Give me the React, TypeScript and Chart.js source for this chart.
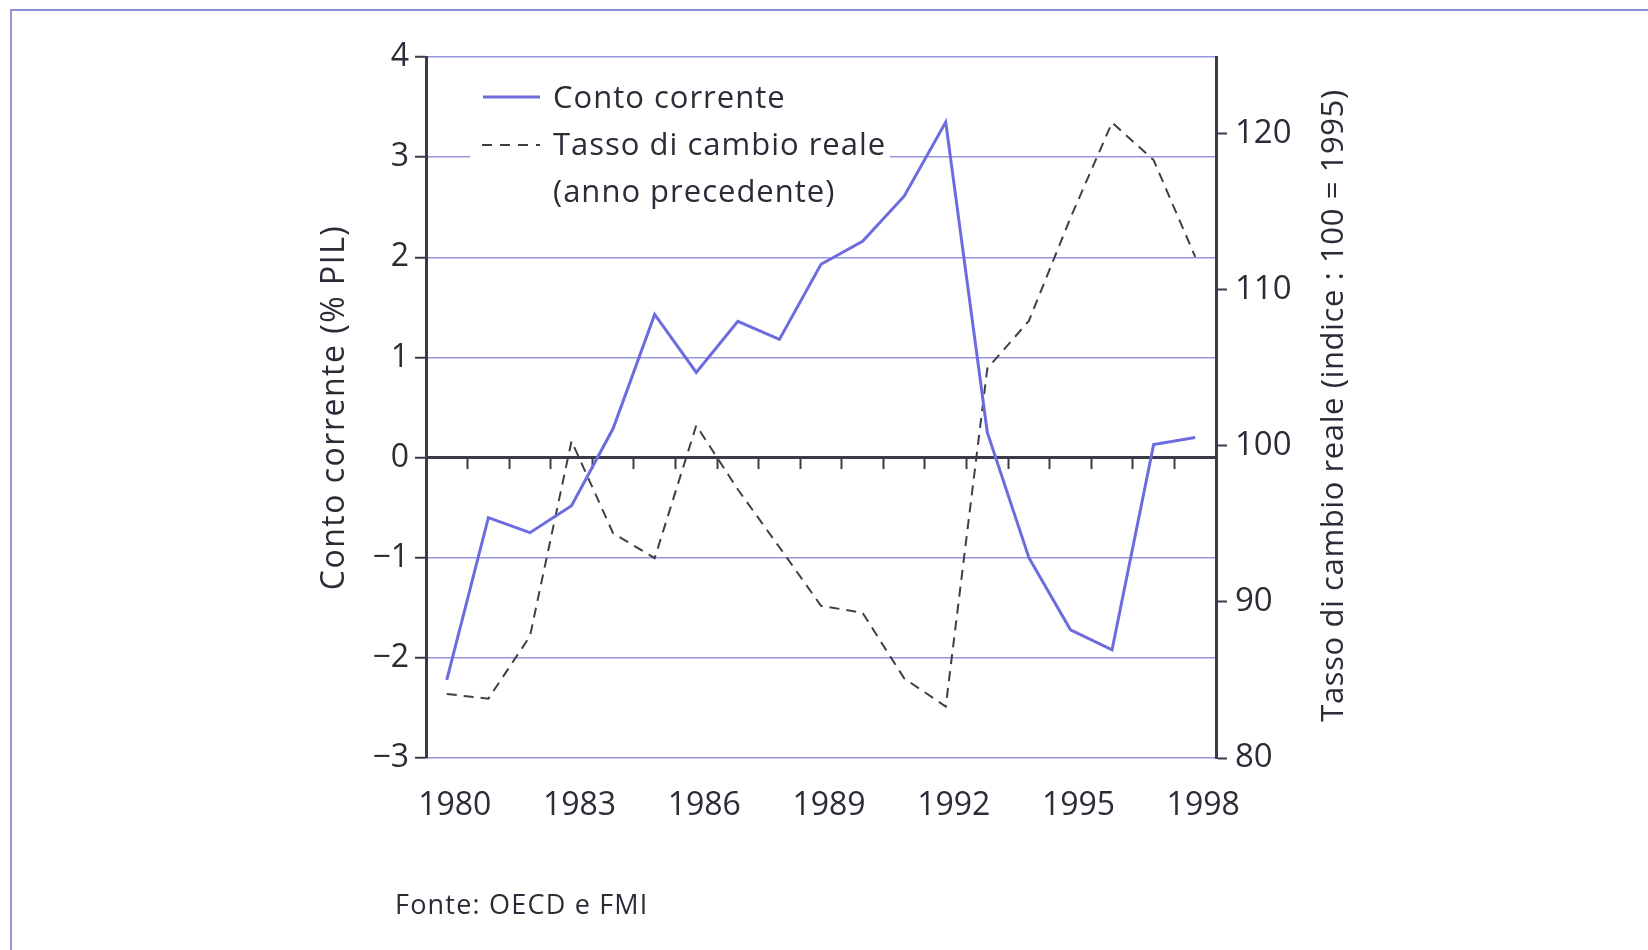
import React, { useEffect, useRef } from "react";
import { Chart, registerables } from "chart.js";

Chart.register(...registerables);

const years = [
  "1980", "1981", "1982", "1983", "1984", "1985", "1986", "1987", "1988", "1989",
  "1990", "1991", "1992", "1993", "1994", "1995", "1996", "1997", "1998",
];
const labelledYears = ["1980", "1983", "1986", "1989", "1992", "1995", "1998"];

// Conto corrente (% PIL)
const contoCorrente = [
  -2.22, -0.6, -0.75, -0.48, 0.29, 1.43, 0.85, 1.36, 1.18, 1.93,
  2.16, 2.61, 3.35, 0.25, -1.0, -1.72, -1.92, 0.13, 0.2,
];
// Tasso di cambio reale (indice: 100 = 1995)
const tassoCambio = [
  84.1, 83.8, 87.8, 100.3, 94.4, 92.8, 101.3, 97.2, 93.5, 89.75,
  89.3, 85.1, 83.3, 104.95, 108.0, 114.6, 120.7, 118.3, 112.1,
];

const leftTicks = [-3, -2, -1, 0, 1, 2, 3, 4];
const rightTicks = [80, 90, 100, 110, 120];

const FONT = "'Open Sans', 'DejaVu Sans', sans-serif";
const TEXT = "#2c2c38";
const AXIS = "#3a3a48";
const GRID = "rgb(150,150,222)";
const BLUE = "rgb(108,108,222)";
const DASH = "#3e3e48";

const legendPlugin = {
  id: "insideLegend",
  afterDraw(chart: any) {
    const ctx = chart.ctx;
    ctx.save();
    ctx.fillStyle = "#ffffff";
    ctx.fillRect(470, 68, 420, 140);
    ctx.font = `31px ${FONT}`;
    (ctx as any).letterSpacing = "1px";
    ctx.fillStyle = TEXT;
    ctx.textBaseline = "alphabetic";
    ctx.textAlign = "left";
    ctx.fillText(chart.data.datasets[0].label, 553, 108);
    ctx.fillText("Tasso di cambio reale", 553, 155);
    ctx.fillText("(anno precedente)", 553, 202);
    ctx.lineWidth = 3;
    ctx.strokeStyle = BLUE;
    ctx.beginPath();
    ctx.moveTo(483, 97);
    ctx.lineTo(540, 97);
    ctx.stroke();
    ctx.lineWidth = 2;
    ctx.strokeStyle = DASH;
    ctx.setLineDash([10, 8]);
    ctx.beginPath();
    ctx.moveTo(482, 145);
    ctx.lineTo(540, 145);
    ctx.stroke();
    ctx.setLineDash([]);
    ctx.restore();

    // axis titles, both reading bottom to top
    const y = chart.scales.y;
    const cy = (y.top + y.bottom) / 2;
    ctx.save();
    ctx.fillStyle = TEXT;
    ctx.textAlign = "center";
    ctx.textBaseline = "middle";
    ctx.translate(335, cy);
    ctx.rotate(-Math.PI / 2);
    ctx.font = `32px ${FONT}`;
    (ctx as any).letterSpacing = "1.5px";
    ctx.fillText("Conto corrente (% PIL)", 0, 0);
    ctx.restore();

    ctx.save();
    ctx.fillStyle = TEXT;
    ctx.textAlign = "center";
    ctx.textBaseline = "middle";
    ctx.translate(1334, cy - 2);
    ctx.rotate(-Math.PI / 2);
    ctx.font = `31px ${FONT}`;
    (ctx as any).letterSpacing = "0.6px";
    ctx.fillText("Tasso di cambio reale (indice : 100 = 1995)", 0, 0);
    ctx.restore();
  },
};

export default function App() {
  const ref = useRef<HTMLCanvasElement | null>(null);
  useEffect(() => {
    if (!ref.current) return;
    const chart = new Chart(ref.current, {
      type: "line",
      data: {
        labels: years,
        datasets: [
          {
            label: "Conto corrente",
            data: contoCorrente,
            borderColor: BLUE,
            borderWidth: 3,
            pointRadius: 0,
            tension: 0,
            xAxisID: "x",
            yAxisID: "y",
          },
          {
            label: "Tasso di cambio reale (anno precedente)",
            data: tassoCambio,
            borderColor: DASH,
            borderWidth: 2,
            borderDash: [10, 7],
            pointRadius: 0,
            tension: 0,
            xAxisID: "x",
            yAxisID: "y1",
          },
        ],
      },
      options: {
        responsive: false,
        animation: false,
        layout: { padding: { top: 57, left: 0, right: 0, bottom: 0 } },
        plugins: {
          legend: { display: false },
          tooltip: { enabled: false },
          title: { display: false },
        },
        scales: {
          x: {
            type: "category",
            position: "bottom",
            offset: true,
            grid: { display: false },
            border: { display: false },
            ticks: {
              autoSkip: false,
              maxRotation: 0,
              padding: 21,
              labelOffset: 8,
              color: TEXT,
              font: { family: FONT, size: 32 },
              callback: function (this: any, v: any) {
                const lab = this.getLabelForValue(v);
                return labelledYears.includes(lab) ? lab : "";
              },
            },
            afterFit: (s: any) => {
              s.height = 950 - 758;
            },
          },
          x0: {
            type: "category",
            axis: "x",
            position: { y: 0 },
            offset: true,
            grid: {
              offset: true,
              drawOnChartArea: false,
              drawTicks: true,
              tickLength: 10,
              tickWidth: 2,
              tickColor: AXIS,
              color: AXIS,
            },
            border: { display: true, color: AXIS, width: 3 },
            ticks: { display: false },
          } as any,
          y: {
            type: "linear",
            position: "left",
            min: -3,
            max: 4,
            afterBuildTicks: (s: any) => {
              s.ticks = leftTicks.map((v) => ({ value: v }));
            },
            grid: {
              color: GRID,
              lineWidth: 1.5,
              drawTicks: true,
              tickLength: 11,
              tickColor: AXIS,
              tickWidth: 2,
            },
            border: { display: true, color: AXIS, width: 3 },
            ticks: {
              padding: 6,
              color: TEXT,
              font: { family: FONT, size: 32 },
              callback: (v: any) => (v < 0 ? "\u2212" + Math.abs(v) : String(v)),
            },
            title: { display: false },
            afterFit: (s: any) => {
              s.width = 426;
            },
          },
          y1: {
            type: "linear",
            position: "right",
            min: 80,
            max: 124.9,
            afterBuildTicks: (s: any) => {
              s.ticks = rightTicks.map((v) => ({ value: v }));
            },
            grid: {
              drawOnChartArea: false,
              drawTicks: true,
              tickLength: 11,
              tickColor: AXIS,
              tickWidth: 2,
            },
            border: { display: true, color: AXIS, width: 3 },
            ticks: {
              padding: 8,
              color: TEXT,
              font: { family: FONT, size: 33 },
            },
            afterFit: (s: any) => {
              s.width = 1648 - 1216;
            },
          },
        },
      },
      plugins: [legendPlugin],
    });
    return () => chart.destroy();
  }, []);

  return (
    <div style={{ position: "absolute", left: 0, top: 0, width: 1648, height: 950, background: "#fff", overflow: "hidden" }}>
      <div style={{ position: "absolute", left: 10, top: 9, width: 1638, height: 941, borderLeft: "2px solid rgb(150,150,215)", borderTop: "2px solid rgb(140,140,210)" }} />
      <canvas ref={ref} width={1648} height={950} style={{ position: "absolute", left: 0, top: 0 }} />
      <div
        style={{
          position: "absolute",
          left: 395,
          top: 886,
          fontFamily: FONT,
          fontSize: 27,
          letterSpacing: "1.2px",
          color: TEXT,
          lineHeight: "36px",
          whiteSpace: "nowrap",
        }}
      >
        Fonte: OECD e FMI
      </div>
    </div>
  );
}
